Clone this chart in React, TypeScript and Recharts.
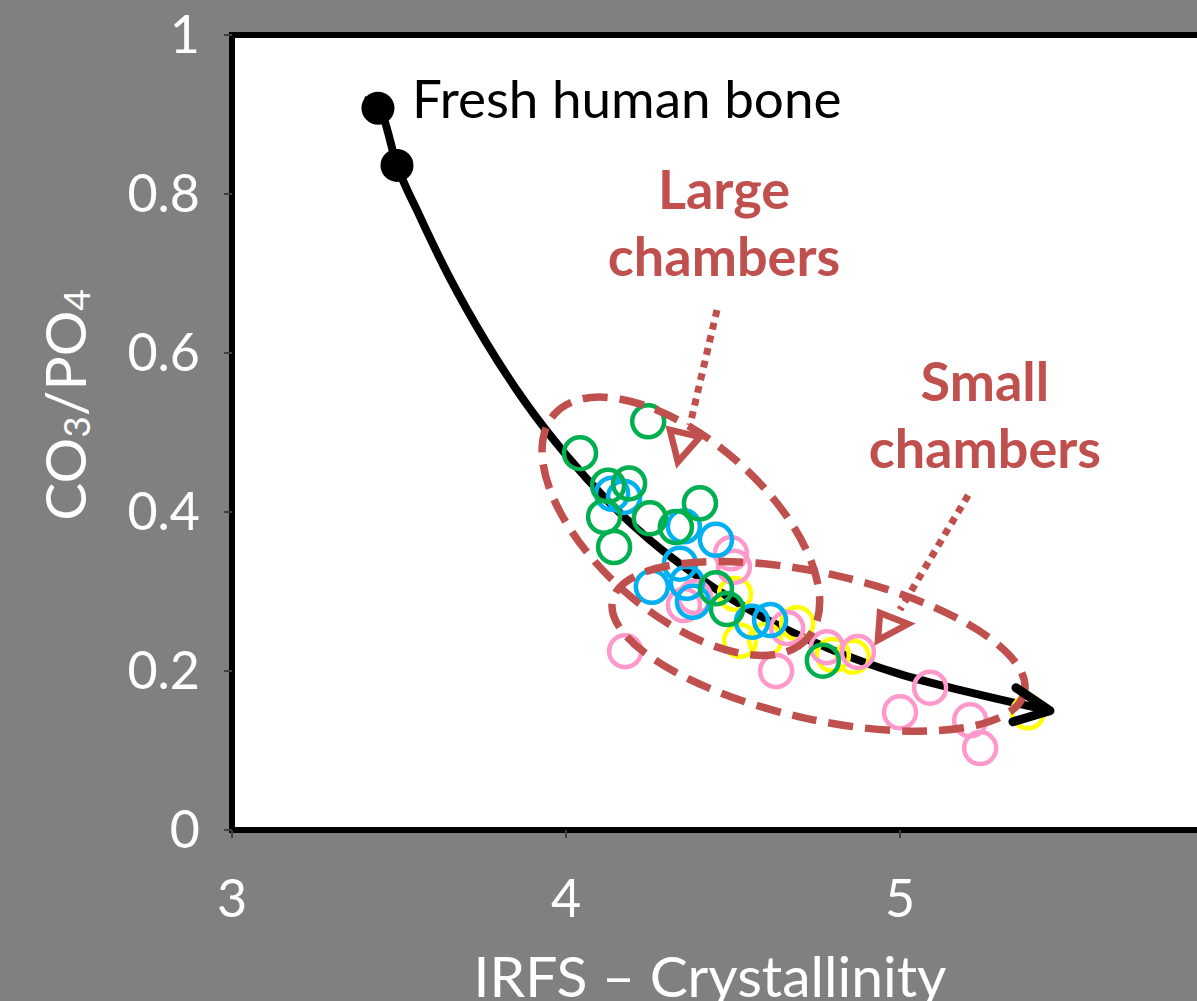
import React from 'react';
import {
  ComposedChart,
  Scatter,
  Line,
  XAxis,
  YAxis,
  ReferenceArea,
  ReferenceDot,
  ReferenceLine,
} from 'recharts';

// sample groups, [crystallinity, CO3/PO4]
const green: [number, number][] = [
  [4.042, 0.474], [4.246, 0.514], [4.126, 0.433], [4.189, 0.436],
  [4.114, 0.394], [4.144, 0.356], [4.251, 0.392], [4.329, 0.381],
  [4.401, 0.411], [4.449, 0.304], [4.482, 0.278], [4.769, 0.213],
];
const blue: [number, number][] = [
  [4.138, 0.423], [4.174, 0.419], [4.353, 0.382], [4.449, 0.365],
  [4.341, 0.335], [4.257, 0.306], [4.362, 0.311], [4.38, 0.287],
  [4.557, 0.262], [4.611, 0.264],
];
const pink: [number, number][] = [
  [4.177, 0.225], [4.494, 0.348], [4.503, 0.331], [4.353, 0.283],
  [4.386, 0.293], [4.629, 0.2], [4.662, 0.254], [4.781, 0.23],
  [4.874, 0.224], [5.09, 0.179], [5.0, 0.148], [5.21, 0.138],
  [5.24, 0.103],
];
const yellow: [number, number][] = [
  [4.506, 0.297], [4.521, 0.238], [4.596, 0.239], [4.692, 0.26],
  [4.799, 0.22], [4.859, 0.218], [5.383, 0.148],
];
const fresh: [number, number][] = [
  [3.437, 0.908], [3.494, 0.836],
];
// trend arrow path
const trend: [number, number][] = [
  [3.395, 0.918], [3.443, 0.906], [3.494, 0.836], [3.56, 0.774],
  [3.65, 0.696], [3.76, 0.614], [3.88, 0.537], [4.0, 0.472],
  [4.12, 0.416], [4.25, 0.365], [4.4, 0.317], [4.6, 0.265],
  [4.8, 0.226], [5.0, 0.196], [5.2, 0.174], [5.449, 0.15],
];

const xTicks = [3, 4, 5];
const yTicks = [0, 0.2, 0.4, 0.6, 0.8, 1];

const toPts = (arr: [number, number][]) => arr.map(([x, y]) => ({ x, y }));

const FONT = 'Lato, "Open Sans", sans-serif';
const RED = '#C0504D';

const ring = (color: string) => (p: any) => (
  <circle cx={p.cx} cy={p.cy} r={16} fill="none" stroke={color} strokeWidth={4.5} />
);

const blackDot = (p: any) => <circle cx={p.cx} cy={p.cy} r={16.5} fill="#000" />;

const arrowDot = (p: any) => {
  if (p.index !== trend.length - 1) return <g key={p.index} />;
  const { cx, cy } = p;
  return (
    <path
      key={p.index}
      d={`M${cx - 34},${cy - 23} L${cx},${cy} L${cx - 37},${cy + 11}`}
      fill="none"
      stroke="#000"
      strokeWidth={9}
      strokeLinecap="round"
      strokeLinejoin="round"
    />
  );
};

const ellipse = (rx: number, ry: number, angle: number) => (p: any) => (
  <ellipse
    cx={p.cx}
    cy={p.cy}
    rx={rx}
    ry={ry}
    transform={`rotate(${angle} ${p.cx} ${p.cy})`}
    fill="none"
    stroke={RED}
    strokeWidth={7.5}
    strokeDasharray="25 12"
  />
);

const arrowHead = (pts: [number, number][]) => (p: any) => (
  <polygon
    points={[[0, 0], ...pts].map(([dx, dy]) => `${p.cx + dx},${p.cy + dy}`).join(' ')}
    fill="none"
    stroke={RED}
    strokeWidth={6.5}
  />
);

const label = (lines: string[], color: string, bold: boolean, anchor: 'start' | 'middle', size: number) => (p: any) => (
  <text
    x={p.cx}
    y={p.cy}
    fill={color}
    fontSize={size}
    fontFamily={FONT}
    fontWeight={bold ? 700 : 400}
    textAnchor={anchor}
    dominantBaseline="central"
  >
    {lines.map((l, i) => (
      <tspan key={i} x={p.cx} dy={i === 0 ? 0 : 67}>
        {l}
      </tspan>
    ))}
  </text>
);

const XTitle = () => (
  <text x={710} y={975} fill="#fff" fontSize={57} fontFamily={FONT} textAnchor="middle" dominantBaseline="central">
    IRFS – Crystallinity
  </text>
);

const YTitle = () => (
  <text
    x={64}
    y={405}
    transform="rotate(-90 64 405)"
    fill="#fff"
    fontSize={57}
    fontFamily={FONT}
    textAnchor="middle"
    dominantBaseline="central"
  >
    CO<tspan fontSize={37} dy={11}>3</tspan>
    <tspan dy={-11}>/PO</tspan>
    <tspan fontSize={37} dy={11}>4</tspan>
  </text>
);

export default function App() {
  const tick = { fill: '#fff', fontSize: 52, fontFamily: FONT };
  return (
    <div
      style={{
        position: 'fixed',
        left: 0,
        top: 0,
        width: 1197,
        height: 1001,
        overflow: 'hidden',
        background: '#808080',
      }}
    >
      <ComposedChart width={1262} height={1001} margin={{ top: 35, right: 28, bottom: 0, left: 0 }}>
        <XAxis
          type="number"
          dataKey="x"
          domain={[3, 6]}
          ticks={xTicks}
          allowDataOverflow
          height={171}
          axisLine={false}
          tickLine={{ stroke: '#404040', strokeWidth: 2 }}
          tickSize={8}
          tickMargin={42}
          tick={tick}
          label={{ content: () => <XTitle /> }}
        />
        <YAxis
          type="number"
          dataKey="y"
          domain={[0, 1]}
          ticks={yTicks}
          allowDataOverflow
          width={232}
          axisLine={false}
          tickLine={{ stroke: '#404040', strokeWidth: 2 }}
          tickSize={8}
          tickMargin={24}
          tick={tick}
          label={{ content: () => <YTitle /> }}
        />
        <ReferenceArea x1={3} x2={6} y1={0} y2={1} fill="#fff" fillOpacity={1} stroke="#000" strokeWidth={6} />

        <Scatter data={toPts(yellow)} dataKey="y" shape={ring('#FFFF00')} isAnimationActive={false} />
        <Scatter data={toPts(pink)} dataKey="y" shape={ring('#FF99CC')} isAnimationActive={false} />
        <Scatter data={toPts(blue)} dataKey="y" shape={ring('#00B0F0')} isAnimationActive={false} />
        <Scatter data={toPts(green)} dataKey="y" shape={ring('#00B050')} isAnimationActive={false} />

        {/* chamber groupings */}
        <ReferenceDot x={4.344} y={0.382} shape={ellipse(169, 86, 41.5)} />
        <ReferenceDot x={4.756} y={0.231} shape={ellipse(211, 73, 12.6)} />

        <ReferenceLine
          segment={[{ x: 4.452, y: 0.654 }, { x: 4.371, y: 0.509 }]}
          stroke={RED}
          strokeWidth={7}
          strokeDasharray="7 6"
        />
        <ReferenceDot x={4.335} y={0.463} shape={arrowHead([[-8, -32], [22, -25]])} />
        <ReferenceLine
          segment={[{ x: 5.204, y: 0.421 }, { x: 5.0, y: 0.277 }]}
          stroke={RED}
          strokeWidth={7}
          strokeDasharray="7 6"
        />
        <ReferenceDot x={4.934} y={0.239} shape={arrowHead([[2, -27], [30, -16]])} />

        <Line
          data={toPts(trend)}
          dataKey="y"
          type="monotone"
          stroke="#000"
          strokeWidth={8}
          dot={arrowDot}
          activeDot={false}
          isAnimationActive={false}
        />
        <Scatter data={toPts(fresh)} dataKey="y" shape={blackDot} isAnimationActive={false} />

        <ReferenceDot x={3.539} y={0.922} shape={label(['Fresh human bone'], '#000', false, 'start', 53)} />
        <ReferenceDot x={4.473} y={0.8075} shape={label(['Large', 'chambers'], RED, true, 'middle', 54)} />
        <ReferenceDot x={5.254} y={0.566} shape={label(['Small', 'chambers'], RED, true, 'middle', 54)} />
      </ComposedChart>
    </div>
  );
}
